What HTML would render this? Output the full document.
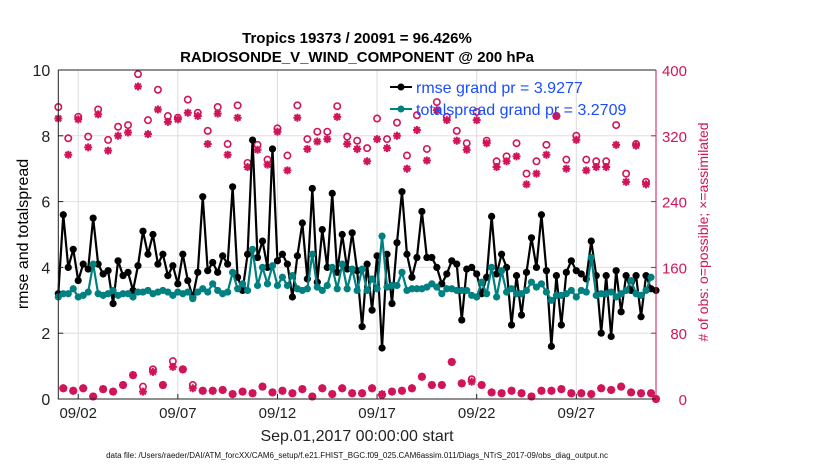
<!DOCTYPE html>
<html><head><meta charset="utf-8"><style>
html,body{margin:0;padding:0;background:#fff;}
svg{display:block;font-family:"Liberation Sans",sans-serif;}
</style></head><body>
<svg id="chart" width="830" height="470" viewBox="0 0 830 470">
<rect x="0" y="0" width="830" height="470" fill="#fff"/>
<text x="357" y="43" text-anchor="middle" font-size="15" font-weight="bold">Tropics 19373 / 20091 = 96.426%</text>
<text x="357" y="62" text-anchor="middle" font-size="15" font-weight="bold">RADIOSONDE_V_WIND_COMPONENT @ 200 hPa</text>
<g id="grid"></g>
<g id="marks"></g>
<g id="axes"></g>
<text transform="translate(28,234) rotate(-90)" text-anchor="middle" font-size="16">rmse and totalspread</text>
<text transform="translate(708,232) rotate(-90)" text-anchor="middle" font-size="14" fill="#d1145a"># of obs: o=possible; ×=assimilated</text>
<text x="357" y="441" text-anchor="middle" font-size="16" fill="#222">Sep.01,2017 00:00:00 start</text>
<text x="357" y="458" text-anchor="middle" font-size="8" fill="#111">data file: /Users/raeder/DAI/ATM_forcXX/CAM6_setup/f.e21.FHIST_BGC.f09_025.CAM6assim.011/Diags_NTrS_2017-09/obs_diag_output.nc</text>
<g>
<line x1="390" y1="87" x2="412" y2="87" stroke="#000" stroke-width="2"/>
<circle cx="401" cy="87" r="3.5" fill="#000"/>
<text x="416" y="93" font-size="16" fill="#1a4dff">rmse grand pr = 3.9277</text>
<line x1="390" y1="109" x2="412" y2="109" stroke="#008080" stroke-width="2"/>
<circle cx="401" cy="109" r="3.5" fill="#008080"/>
<text x="416" y="115" font-size="16" fill="#1a4dff">totalspread grand pr = 3.2709</text>
</g>
</svg>
<script>
const rmse = [3.2,5.6,4.0,4.55,3.6,4.1,3.95,5.5,4.1,3.8,3.9,2.9,4.2,3.75,3.85,3.3,4.05,5.1,4.4,5.0,4.1,4.4,3.75,4.05,3.5,4.4,3.6,3.1,3.85,6.15,3.9,4.15,3.85,4.35,4.1,6.45,3.7,3.3,4.4,
7.87,4.3,4.8,4.0,7.6,4.2,4.4,4.1,3.1,4.35,5.35,3.65,6.4,3.55,5.15,4.0,6.25,3.85,5.0,3.95,5.05,3.9,2.2,4.1,2.7,4.35,1.55,4.4,2.9,4.75,6.3,4.4,3.7,4.3,5.7,4.3,4.3,4.0,3.5,3.8,4.2,4.1,
2.4,3.95,4.0,3.8,3.2,3.7,5.55,3.8,4.4,4.0,2.25,3.75,2.55,3.85,4.9,4.0,5.6,3.9,1.6,3.75,2.25,3.85,4.2,3.9,3.8,3.65,4.8,3.75,2.0,3.75,1.9,3.9,2.65,3.75,3.3,3.75,2.5,3.75,3.35,3.3];
const spread = [3.1,3.2,3.2,3.35,3.1,3.15,3.25,4.1,3.2,3.15,3.2,3.3,3.15,3.2,3.2,3.1,3.25,3.25,3.3,3.2,3.25,3.3,3.25,3.15,3.25,3.2,3.25,3.05,3.25,3.35,3.25,3.5,3.3,3.2,3.25,3.85,3.35,3.5,3.3,
4.55,3.45,4.0,3.5,4.05,3.45,3.7,3.45,3.75,3.35,3.3,3.35,4.4,3.4,3.3,3.45,4.0,3.35,4.1,3.35,3.95,3.3,3.95,3.3,3.65,3.35,4.95,3.4,3.45,3.45,3.85,3.3,3.35,3.35,3.35,3.4,3.5,3.4,3.2,3.35,3.35,3.3,
3.3,3.3,3.15,3.1,3.55,3.2,4.0,3.1,3.9,3.25,3.35,3.2,3.2,3.3,3.55,3.4,3.5,3.25,3.0,3.15,3.15,3.2,3.3,3.1,3.3,3.25,4.3,3.15,3.2,3.2,3.25,3.1,3.2,3.3,3.6,3.2,3.15,3.3,3.7];
const highPossible = [355,317,343,319,352,315,331,333,395,339,376,344,342,364,348,326,355,310,357,287,309,
291,329,296,357,316,325,325,356,319,314,305,341,316,336,296,345,304,361,343,326,
311,349,314,289,295,311,274,289,309,344,291,320,291,289,289,333,274,310,264];
const highAssim = [341,297,340,306,346,302,320,324,380,322,352,337,340,348,344,310,347,297,342,282,303,
285,325,278,342,304,313,316,343,310,304,289,316,305,320,280,327,290,351,339,314,
303,339,311,282,289,295,261,274,297,344,280,315,278,282,282,309,264,308,261];
const lowPossible = [13,10,13,3,12,9,17,29,15,36,17,46,36,17,10,10,11,6,9,7,
15,8,10,7,12,3,13,6,13,7,7,13,5,9,10,13,27,17,17,45,
19,24,17,8,7,10,7,3,10,10,12,7,7,6,13,11,15,8,7,7,0];
const lowAssim = [13,10,13,3,12,9,17,29,9,33,17,39,36,13,10,10,11,6,9,7,
15,8,10,7,12,3,13,6,13,7,7,13,6,9,10,13,27,17,17,45,
19,21,17,8,7,10,7,3,10,10,12,7,7,6,13,11,15,8,7,7,0];
const xTickDays = [1,6,11,16,21,26];
const xTickLabels = ["09/02","09/07","09/12","09/17","09/22","09/27"];
const yTicks = [0,2,4,6,8,10];
const y2Ticks = [0,80,160,240,320,400];

const NS = "http://www.w3.org/2000/svg";
const X0 = 58.3, X1 = 656, YB = 399, YT = 70, DAYS = 30;
const xScale = d => X0 + (X1 - X0) * d / DAYS;
const yScale = v => YB - (YB - YT) * v / 10;
const y2Scale = v => YB - (YB - YT) * v / 400;
const PINK = "#d1145a", TEAL = "#008080";
function mk(tag, attrs, parent) {
  const el = document.createElementNS(NS, tag);
  for (const k in attrs) el.setAttribute(k, attrs[k]);
  parent.appendChild(el);
  return el;
}
const grid = document.getElementById("grid");
const marks = document.getElementById("marks");
const axes = document.getElementById("axes");

xTickDays.forEach((d, i) => {
  const g = mk("line", {x1: xScale(d), x2: xScale(d), y1: YT, y2: YB, stroke: "#dcdcdc", "stroke-width": 1}, grid);
  
  
  const t = mk("line", {x1: xScale(d), x2: xScale(d), y1: YB, y2: YB - 5, stroke: "#222", "stroke-width": 1}, axes);
  
  
  const lb = mk("text", {x: xScale(d), y: YB + 19, "text-anchor": "middle", "font-size": 15, fill: "#222"}, axes);
  lb.textContent = xTickLabels[i];
  
  
});
y2Ticks.forEach(v => {
  if (v > 0 && v < 400) {
    const g = mk("line", {x1: X0, x2: X1, y1: y2Scale(v), y2: y2Scale(v), stroke: "#f0d6e0", "stroke-width": 1}, grid);
    
    
  }
  const lb = mk("text", {x: 687, y: y2Scale(v) + 6, "text-anchor": "end", "font-size": 15, fill: PINK}, axes);
  lb.textContent = v;
  
  
  const t = mk("line", {x1: X1, x2: X1 - 5, y1: y2Scale(v), y2: y2Scale(v), stroke: PINK, "stroke-width": 1}, axes);
  
  
});
yTicks.forEach(v => {
  const lb = mk("text", {x: X0 - 8, y: yScale(v) + 6, "text-anchor": "end", "font-size": 16, fill: "#222"}, axes);
  lb.textContent = v;
  
  
  const t = mk("line", {x1: X0, x2: X0 + 5, y1: yScale(v), y2: yScale(v), stroke: "#222", "stroke-width": 1}, axes);
  
  
});
const ax = mk("path", {d: `M${X0},${YT} L${X0},${YB} L${X1},${YB}`, fill: "none", stroke: "#222", "stroke-width": 1}, axes);


const ax2 = mk("path", {d: `M${X0},${YT} L${X1},${YT}`, fill: "none", stroke: "#222", "stroke-width": 1}, axes);


const ax3 = mk("line", {x1: X1, x2: X1, y1: YT, y2: YB, stroke: PINK, "stroke-width": 1}, axes);



function star(cx, cy, parent) {
  const r = 4, q = 2.9;
  const p = mk("path", {d: `M${cx-r},${cy}H${cx+r}M${cx},${cy-r}V${cy+r}M${cx-q},${cy-q}L${cx+q},${cy+q}M${cx-q},${cy+q}L${cx+q},${cy-q}`, stroke: PINK, "stroke-width": 2, fill: "none"}, parent);
  
  
}
function ring(cx, cy, parent) {
  const c = mk("circle", {cx: cx, cy: cy, r: 3.2, fill: "none", stroke: PINK, "stroke-width": 1.6}, parent);
  
  
}
highPossible.forEach((v, k) => ring(xScale(k * 0.5), y2Scale(v), marks));
highAssim.forEach((v, k) => star(xScale(k * 0.5), y2Scale(v), marks));
lowPossible.forEach((v, k) => ring(xScale(Math.min(0.25 + 0.5 * k, DAYS)), y2Scale(v), marks));
lowAssim.forEach((v, k) => star(xScale(Math.min(0.25 + 0.5 * k, DAYS)), y2Scale(v), marks));

function series(vals, color, name) {
  const pts = vals.map((v, i) => [xScale(i * 0.25), yScale(v)]);
  const pl = mk("polyline", {points: pts.map(p => p.join(",")).join(" "), fill: "none", stroke: color, "stroke-width": 2.2, "stroke-linejoin": "round"}, marks);
  
  
  pts.forEach(p => {
    const c = mk("circle", {cx: p[0], cy: p[1], r: 3.6, fill: color}, marks);
    
    
  });
}
series(rmse, "#000", "rmse");
series(spread, TEAL, "totalspread");
</script>
</body></html>
